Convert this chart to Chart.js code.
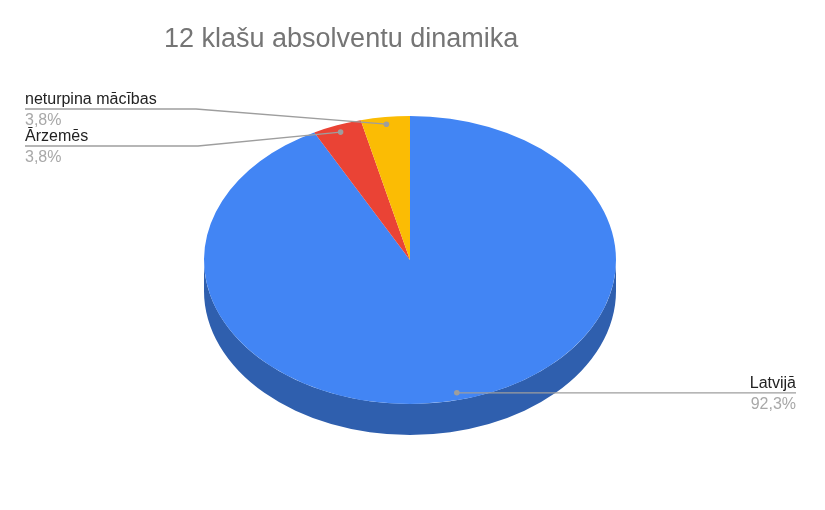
<!DOCTYPE html>
<html>
<head>
<meta charset="utf-8">
<script src="https://cdn.jsdelivr.net/npm/chart.js@4/dist/chart.umd.min.js"></script>
<style>
  html, body { margin: 0; padding: 0; background: #fff; }
  #wrap { width: 825px; height: 510px; }
</style>
</head>
<body>
<div id="wrap"><canvas id="pieChart" width="825" height="510"></canvas></div>
<script>
// data
const categories = ['Latvijā', 'Ārzemēs', 'neturpina mācības'];
const values = [24, 1, 1];
const colors = ['#4285f4', '#ea4335', '#fbbc04'];
const sideColors = ['#2f5fae', '#a8302a', '#b38600'];

// where the 3D ellipse sits on the page
const pie3d = { cx: 410, cy: 260, rx: 206, ry: 144, depth: 31 };

// label placement (elbow x, horizontal line y, end of the line)
const labelLayout = [
    { side: 'right', endX: 796 },
    { side: 'left', elbowX: 198, lineY: 146, endX: 25 },
    { side: 'left', elbowX: 196, lineY: 109, endX: 25 }
];

const total = values.reduce((a, b) => a + b, 0);
const percentText = values.map(v => (v / total * 100).toFixed(1).replace('.', ',') + '%');

const FONT = "'Liberation Sans', Arial, sans-serif";

function projected(arc, angle, frac) {
    return {
        x: pie3d.cx + pie3d.rx * frac * Math.cos(angle),
        y: pie3d.cy + pie3d.ry * frac * Math.sin(angle)
    };
}

const pie3dPlugin = {
    id: 'pie3d',
    beforeDatasetsDraw(chart) {
        const ctx = chart.ctx;
        const meta = chart.getDatasetMeta(0);
        // side wall, only the front half is visible
        meta.data.forEach((arc, i) => {
            const a1 = arc.startAngle, a2 = arc.endAngle;
            [[0, Math.PI], [2 * Math.PI, 3 * Math.PI]].forEach(([lo, hi]) => {
                const s = Math.max(a1, lo), e = Math.min(a2, hi);
                if (e <= s) return;
                ctx.save();
                ctx.beginPath();
                ctx.ellipse(pie3d.cx, pie3d.cy, pie3d.rx, pie3d.ry, 0, s, e);
                ctx.ellipse(pie3d.cx, pie3d.cy + pie3d.depth, pie3d.rx, pie3d.ry, 0, e, s, true);
                ctx.closePath();
                ctx.fillStyle = sideColors[i];
                ctx.fill();
                ctx.restore();
            });
        });
        // squash the library's own arcs into the top face
        const first = meta.data[0];
        const R = first.outerRadius;
        ctx.save();
        ctx.translate(pie3d.cx, pie3d.cy);
        ctx.scale(pie3d.rx / R, pie3d.ry / R);
        ctx.translate(-first.x, -first.y);
    },
    afterDatasetsDraw(chart) {
        chart.ctx.restore();
    },
    afterDraw(chart) {
        const ctx = chart.ctx;
        const meta = chart.getDatasetMeta(0);
        meta.data.forEach((arc, i) => {
            const mid = (arc.startAngle + arc.endAngle) / 2;
            const dot = projected(arc, mid, 0.95);
            const lay = labelLayout[i];
            ctx.save();
            ctx.strokeStyle = '#9e9e9e';
            ctx.lineWidth = 1.3;
            ctx.beginPath();
            ctx.moveTo(dot.x, dot.y);
            let lineY;
            if (lay.side === 'right') {
                lineY = dot.y;
                ctx.lineTo(lay.endX, lineY);
            } else {
                lineY = lay.lineY;
                ctx.lineTo(lay.elbowX, lineY);
                ctx.lineTo(lay.endX, lineY);
            }
            ctx.stroke();
            ctx.fillStyle = '#9e9e9e';
            ctx.beginPath();
            ctx.arc(dot.x, dot.y, 2.8, 0, Math.PI * 2);
            ctx.fill();

            ctx.font = '16px ' + FONT;
            ctx.textBaseline = 'alphabetic';
            ctx.textAlign = lay.side === 'right' ? 'right' : 'left';
            const tx = lay.endX;
            ctx.fillStyle = '#222222';
            ctx.fillText(categories[i], tx, lineY - 5);
            ctx.fillStyle = '#a8a8a8';
            ctx.fillText(percentText[i], tx, lineY + 16);
            ctx.restore();
        });
    }
};

const ctx = document.getElementById('pieChart').getContext('2d');
const pieChart = new Chart(ctx, {
    type: 'pie',
    data: {
        labels: categories,
        datasets: [{
            data: values,
            backgroundColor: colors,
            borderWidth: 0,
            clip: false
        }]
    },
    options: {
        responsive: false,
        animation: false,
        events: [],
        layout: { padding: { left: 164, right: 20, bottom: 20 } },
        plugins: {
            legend: { display: false },
            tooltip: { enabled: false },
            title: {
                display: true,
                text: '12 klašu absolventu dinamika',
                align: 'start',
                color: '#757575',
                font: { family: FONT, size: 27, weight: 'normal' },
                padding: { top: 23, bottom: 10 }
            }
        }
    },
    plugins: [pie3dPlugin]
});
</script>
</body>
</html>
